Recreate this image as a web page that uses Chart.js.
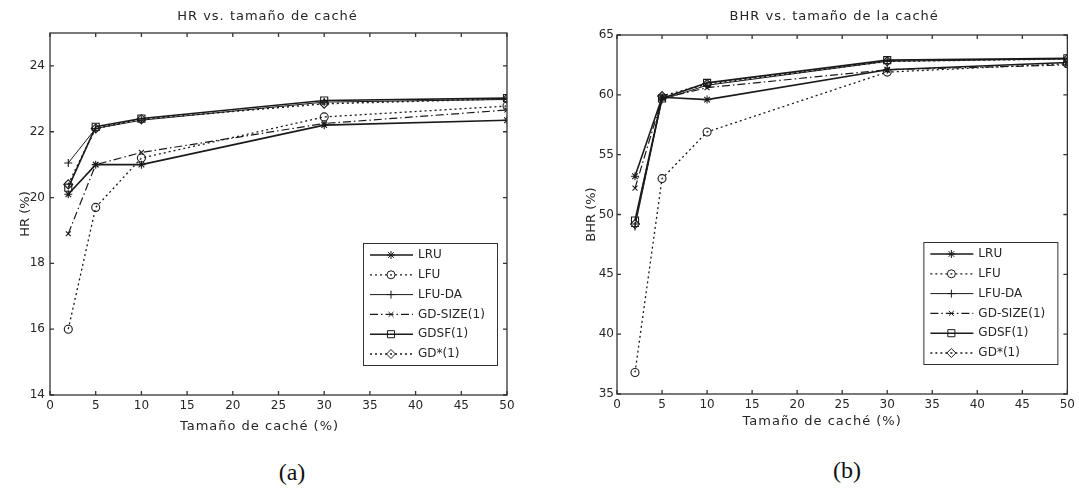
<!DOCTYPE html>
<html>
<head>
<meta charset="utf-8">
<script src="https://cdn.jsdelivr.net/npm/chart.js@4.4.1/dist/chart.umd.min.js"></script>
<style>
  html, body { margin: 0; padding: 0; background: #fff; }
  #page { position: relative; width: 1079px; height: 489px; overflow: hidden; background: #fff; }
  .panel { position: absolute; top: 0; height: 440px; }
  #panelA { left: 0; width: 540px; }
  #panelB { left: 540px; width: 539px; }
  .caption { position: absolute; font-family: 'Liberation Serif', serif; font-size: 24px; color: #111; transform: translate(-50%, -50%); }
</style>
</head>
<body>
<div id="page">
  <div class="panel" id="panelA"><canvas id="hrChart"></canvas></div>
  <div class="panel" id="panelB"><canvas id="bhrChart"></canvas></div>
  <div class="caption" style="left:292px; top:472px">(a)</div>
  <div class="caption" style="left:847px; top:470px">(b)</div>
</div>
<script>
// cache sizes (% of total) and replacement policies
const cacheSizes = [2, 5, 10, 30, 50];
const policyNames = ['LRU', 'LFU', 'LFU-DA', 'GD-SIZE(1)', 'GDSF(1)', 'GD*(1)'];

// hit ratio (%)
const hrLru    = [20.1, 21.0, 21.0, 22.2, 22.35];
const hrLfu    = [16.0, 19.7, 21.2, 22.45, 22.78];
const hrLfuDa  = [21.05, 22.1, 22.35, 22.9, 22.98];
const hrGdSize = [18.9, 21.0, 21.37, 22.25, 22.66];
const hrGdsf   = [20.3, 22.15, 22.4, 22.95, 23.02];
const hrGdStar = [20.4, 22.1, 22.38, 22.85, 23.0];

// byte hit ratio (%)
const bhrLru    = [53.2, 59.8, 59.6, 62.1, 62.7];
const bhrLfu    = [36.8, 53.0, 56.9, 61.9, 62.6];
const bhrLfuDa  = [49.0, 59.6, 60.8, 62.8, 63.0];
const bhrGdSize = [52.2, 59.7, 60.6, 62.1, 62.5];
const bhrGdsf   = [49.5, 59.7, 61.0, 62.9, 63.05];
const bhrGdStar = [49.2, 59.9, 60.9, 62.8, 63.0];

// tick values
const xTickValues = [0, 5, 10, 15, 20, 25, 30, 35, 40, 45, 50];
const hrTickValues = [14, 16, 18, 20, 22, 24];
const bhrTickValues = [35, 40, 45, 50, 55, 60, 65];

const lineColor = '#1a1a1a';
const frameColor = '#333';
const textColor = '#262626';
const fontFamily = "'DejaVu Sans', Verdana, sans-serif";

// line/marker look per policy, same order as policyNames
const policyStyles = [
  { dash: [],             width: 1.6, point: 'star',     radius: 4 },
  { dash: [2, 3],         width: 1.3, point: 'circle',   radius: 4 },
  { dash: [],             width: 1,   point: 'cross',    radius: 4 },
  { dash: [8, 3, 1.5, 3], width: 1.2, point: 'crossRot', radius: 3.5 },
  { dash: [],             width: 1.6, point: 'rect',     radius: 5 },
  { dash: [2, 3],         width: 1.5, point: 'rectRot',  radius: 4.5 }
];

// box around the plot with inward ticks on all four sides
const axesBox = {
  id: 'axesBox',
  afterDraw(chart) {
    const { ctx, chartArea: a, scales: { x, y } } = chart;
    ctx.save();
    ctx.strokeStyle = frameColor;
    ctx.lineWidth = 1.3;
    ctx.strokeRect(a.left, a.top, a.right - a.left, a.bottom - a.top);
    ctx.beginPath();
    x.ticks.forEach(t => {
      const px = x.getPixelForValue(t.value);
      ctx.moveTo(px, a.bottom); ctx.lineTo(px, a.bottom - 4);
      ctx.moveTo(px, a.top); ctx.lineTo(px, a.top + 4);
    });
    y.ticks.forEach(t => {
      const py = y.getPixelForValue(t.value);
      ctx.moveTo(a.left, py); ctx.lineTo(a.left + 4, py);
      ctx.moveTo(a.right, py); ctx.lineTo(a.right - 4, py);
    });
    ctx.stroke();
    ctx.restore();
  }
};

// chart title and x-axis title, set a little left of the plot centre
const axisTexts = {
  id: 'axisTexts',
  afterDraw(chart, args, opts) {
    const { ctx, chartArea: a } = chart;
    const mid = (a.left + a.right) / 2;
    ctx.save();
    ctx.fillStyle = textColor;
    ctx.font = '13px ' + fontFamily;
    ctx.textAlign = 'center';
    ctx.textBaseline = 'middle';
    if ('letterSpacing' in ctx) ctx.letterSpacing = '1px';
    ctx.fillText(opts.title, mid + opts.titleShift, opts.titleY);
    ctx.fillText(opts.xTitle, mid + opts.xTitleShift, opts.xTitleY);
    ctx.restore();
  }
};

// legend box in the lower right corner of the plot
const boxLegend = {
  id: 'boxLegend',
  afterDatasetsDraw(chart) {
    const { ctx, chartArea } = chart;
    const w = 134, h = 122;
    const left = chartArea.right - 10 - w;
    const top = chartArea.bottom - 30 - h;
    ctx.save();
    ctx.fillStyle = '#fff';
    ctx.fillRect(left, top, w, h);
    ctx.strokeStyle = frameColor;
    ctx.lineWidth = 1;
    ctx.strokeRect(left + 0.5, top + 0.5, w, h);
    chart.data.datasets.forEach((ds, i) => {
      const y = top + 12 + i * 19.8;
      ctx.strokeStyle = lineColor;
      ctx.lineWidth = ds.borderWidth;
      ctx.setLineDash(ds.borderDash);
      ctx.beginPath();
      ctx.moveTo(left + 7, y);
      ctx.lineTo(left + 50, y);
      ctx.stroke();
      ctx.setLineDash([]);
      ctx.lineWidth = 1;
      ctx.fillStyle = 'rgba(0,0,0,0)';
      Chart.helpers.drawPoint(ctx, { pointStyle: ds.pointStyle, radius: ds.pointRadius, borderWidth: 1, rotation: 0 }, left + 28, y);
      ctx.fillStyle = textColor;
      ctx.font = '12px ' + fontFamily;
      ctx.textBaseline = 'middle';
      ctx.textAlign = 'left';
      ctx.fillText(ds.label, left + 55, y);
    });
    ctx.restore();
  }
};

function buildChart(canvasId, o) {
  const font = { family: fontFamily, size: 12, weight: 'normal' };
  const datasets = policyNames.map((name, i) => {
    const st = policyStyles[i];
    return {
      label: name,
      data: cacheSizes.map((x, j) => ({ x: x, y: o.series[i][j] })),
      borderColor: lineColor,
      borderWidth: st.width,
      borderDash: st.dash,
      pointStyle: st.point,
      pointRadius: st.radius,
      pointBorderColor: lineColor,
      pointBackgroundColor: 'rgba(0,0,0,0)',
      pointBorderWidth: 1.1,
      tension: 0,
      fill: false
    };
  });

  return new Chart(document.getElementById(canvasId), {
    type: 'line',
    data: { datasets: datasets },
    options: {
      responsive: true,
      maintainAspectRatio: false,
      animation: false,
      layout: { padding: { left: o.padLeft, right: o.padRight, top: o.padTop, bottom: 0 } },
      plugins: {
        legend: { display: false },
        tooltip: { enabled: false },
        title: { display: false },
        axisTexts: {
          title: o.title,
          titleY: 17,
          titleShift: o.titleShift,
          xTitle: 'Tamaño de caché (%)',
          xTitleY: o.xTitleY,
          xTitleShift: o.xTitleShift
        }
      },
      scales: {
        x: {
          type: 'linear',
          min: 0,
          max: 50,
          afterBuildTicks: s => { s.ticks = xTickValues.map(v => ({ value: v })); },
          afterFit: s => { s.height = o.xAxisHeight; },
          grid: { display: false, drawTicks: false },
          border: { display: false },
          ticks: { color: textColor, font: font, padding: 4, maxRotation: 0, autoSkip: false }
        },
        y: {
          type: 'linear',
          min: o.yMin,
          max: o.yMax,
          afterBuildTicks: s => { s.ticks = o.yTicks.map(v => ({ value: v })); },
          afterFit: s => { s.width = o.yAxisWidth; },
          grid: { display: false, drawTicks: false },
          border: { display: false },
          ticks: { color: textColor, font: font, padding: o.yTickPad },
          title: { display: true, text: o.yTitle, color: textColor, font: { family: fontFamily, size: 13 }, padding: { top: 0, bottom: 0 } }
        }
      }
    },
    plugins: [axesBox, boxLegend, axisTexts]
  });
}

buildChart('hrChart', {
  title: 'HR vs. tamaño de caché',
  yTitle: 'HR (%)',
  series: [hrLru, hrLfu, hrLfuDa, hrGdSize, hrGdsf, hrGdStar],
  yMin: 14, yMax: 25, yTicks: hrTickValues,
  padLeft: 18, yAxisWidth: 32, padRight: 33, padTop: 33,
  xAxisHeight: 45, yTickPad: 5,
  titleShift: -11, xTitleShift: -19, xTitleY: 427
});

buildChart('bhrChart', {
  title: 'BHR vs. tamaño de la caché',
  yTitle: 'BHR (%)',
  series: [bhrLru, bhrLfu, bhrLfuDa, bhrGdSize, bhrGdsf, bhrGdStar],
  yMin: 35, yMax: 65, yTicks: bhrTickValues,
  padLeft: 44, yAxisWidth: 33, padRight: 8, padTop: 35,
  xAxisHeight: 46, yTickPad: 3,
  titleShift: -8, xTitleShift: -20, xTitleY: 422
});
</script>
</body>
</html>
